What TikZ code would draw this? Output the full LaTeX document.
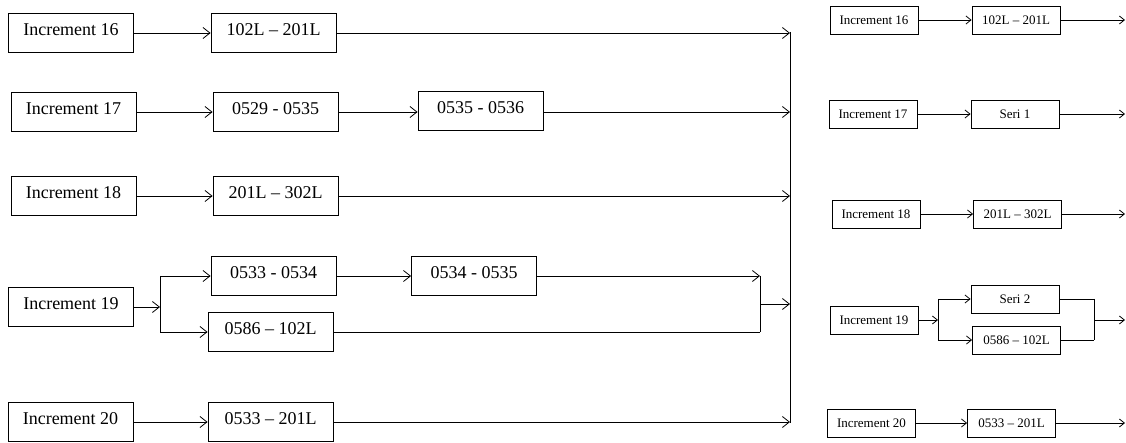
\documentclass[tikz,border=0pt]{standalone}
\usepackage{fontspec}
\setmainfont{Liberation Serif}
\usetikzlibrary{arrows.meta}

\begin{document}
\begin{tikzpicture}[
    x=1pt, y=-1pt,
    % kotak kiri
    blk/.style={rectangle, draw=black, line width=0.8pt, fill=white,
                minimum width=125pt, minimum height=39pt, inner sep=2pt,
                text height=12.5pt, text depth=7pt,
                font=\fontsize{18}{20}\selectfont},
    % kotak kanan (ringkas)
    blk small/.style={rectangle, draw=black, line width=0.8pt, fill=white,
                      minimum width=88pt, minimum height=28pt, inner sep=2pt,
                      font=\fontsize{13}{15}\selectfont},
    flow/.style={-{Straight Barb[length=7pt, width=11pt]}, line width=0.8pt},
    flow small/.style={-{Straight Barb[length=5pt, width=8pt]}, line width=0.8pt},
    wire/.style={line width=0.8pt},
]
\useasboundingbox (0,0) rectangle (1126,443);

% ===================== Diagram kiri =====================
\node[blk] (l16)  at (71,   33)  {Increment 16};
\node[blk] (l16a) at (273.5,33)  {102L -- 201L};

\node[blk] (l17)  at (73.5, 112) {Increment 17};
\node[blk] (l17a) at (275.5,112) {0529 - 0535};
\node[blk] (l17b) at (480.5,111) {0535 - 0536};

\node[blk] (l18)  at (73.5, 196) {Increment 18};
\node[blk] (l18a) at (275.5,196) {201L -- 302L};

\node[blk] (l19)  at (71,   307) {Increment 19};
\node[blk] (l19a) at (273.5,276) {0533 - 0534};
\node[blk] (l19b) at (474,  276) {0534 - 0535};
\node[blk] (l19c) at (270.5,332) {0586 -- 102L};

\node[blk] (l20)  at (70.5, 422) {Increment 20};
\node[blk] (l20a) at (270.5,422) {0533 -- 201L};

% titik bantu
\coordinate (busTop) at (790, 32);
\coordinate (busBot) at (790, 423);
\coordinate (s19)    at (160, 307);
\coordinate (m19)    at (760, 304);

\draw[wire] (busTop) -- (busBot);

\draw[flow] (l16) -- (l16a);
\draw[flow] (l16a) -- (l16a -| busTop);

\draw[flow] (l17) -- (l17a);
\draw[flow] (l17a) -- (l17a -| l17b.west);
\draw[flow] (l17a -| l17b.east) -- (l17a -| busTop);

\draw[flow] (l18) -- (l18a);
\draw[flow] (l18a) -- (l18a -| busTop);

\draw[flow] (l19) -- (s19);
\draw[wire] (s19 |- l19a) -- (s19 |- l19c);
\draw[flow] (s19 |- l19a) -- (l19a);
\draw[flow] (s19 |- l19c) -- (l19c);
\draw[flow] (l19a) -- (l19b);
\draw[flow] (l19b) -- (l19b -| m19);
\draw[wire] (l19c) -- (l19c -| m19);
\draw[wire] (m19 |- l19b) -- (m19 |- l19c);
\draw[flow] (m19) -- (m19 -| busTop);

\draw[flow] (l20) -- (l20a);
\draw[flow] (l20a) -- (l20a -| busTop);

% ===================== Diagram kanan =====================
\node[blk small] (r16)  at (874,   20)  {Increment 16};
\node[blk small] (r16a) at (1016,  20)  {102L -- 201L};

\node[blk small] (r17)  at (873,   114) {Increment 17};
\node[blk small] (r17a) at (1015,  114) {Seri 1};

\node[blk small] (r18)  at (876,   214) {Increment 18};
\node[blk small] (r18a) at (1017.5,214) {201L -- 302L};

\node[blk small] (r19)  at (874,   320) {Increment 19};
\node[blk small] (r19a) at (1015,  299) {Seri 2};
\node[blk small] (r19b) at (1016.5,340) {0586 -- 102L};

\node[blk small] (r20)  at (871.5, 423) {Increment 20};
\node[blk small] (r20a) at (1011.5,423) {0533 -- 201L};

\coordinate (rs19) at (938, 320);
\coordinate (rm19) at (1094, 320);
\coordinate (o16)  at (1125, 20);
\coordinate (o17)  at (1125, 114);
\coordinate (o18)  at (1125, 214);
\coordinate (o19)  at (1125, 320);
\coordinate (o20)  at (1125, 423);

\draw[flow small] (r16) -- (r16a);
\draw[flow small] (r16a) -- (o16);

\draw[flow small] (r17) -- (r17a);
\draw[flow small] (r17a) -- (o17);

\draw[flow small] (r18) -- (r18a);
\draw[flow small] (r18a) -- (o18);

\draw[flow small] (r19) -- (rs19);
\draw[wire] (rs19 |- r19a) -- (rs19 |- r19b);
\draw[flow small] (rs19 |- r19a) -- (r19a);
\draw[flow small] (rs19 |- r19b) -- (r19b);
\draw[wire] (r19a) -- (r19a -| rm19);
\draw[wire] (r19b) -- (r19b -| rm19);
\draw[wire] (rm19 |- r19a) -- (rm19 |- r19b);
\draw[flow small] (rm19) -- (o19);

\draw[flow small] (r20) -- (r20a);
\draw[flow small] (r20a) -- (o20);

\end{tikzpicture}
\end{document}
